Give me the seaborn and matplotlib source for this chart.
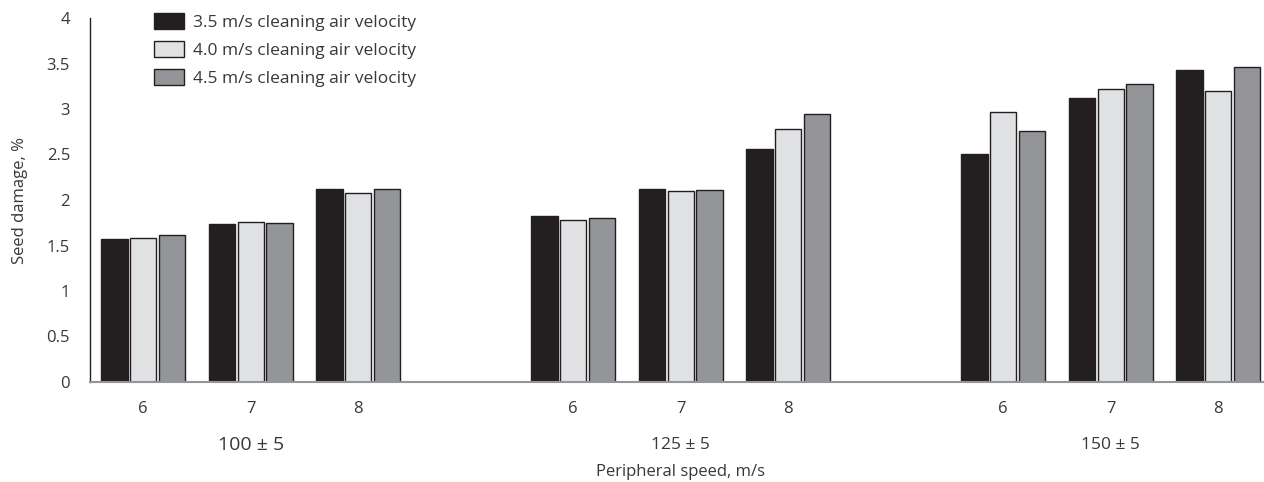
import matplotlib
matplotlib.use('Agg')
import matplotlib.pyplot as plt
import matplotlib.transforms as mtransforms
import numpy as np
import pandas as pd
import seaborn as sns

# drum speed groups and feed rate (peripheral speed) categories
drums = ['100 ± 5', '125 ± 5', '150 ± 5']
feeds = ['6', '7', '8']
air = ['3.5 m/s cleaning air velocity',
       '4.0 m/s cleaning air velocity',
       '4.5 m/s cleaning air velocity']

# seed damage, %  (order: 100-6,7,8 / 125-6,7,8 / 150-6,7,8)
dmg_35 = [1.57, 1.74, 2.12, 1.82, 2.12, 2.56, 2.51, 3.12, 3.43]
dmg_40 = [1.58, 1.76, 2.08, 1.78, 2.10, 2.78, 2.97, 3.22, 3.20]
dmg_45 = [1.61, 1.75, 2.12, 1.80, 2.11, 2.94, 2.76, 3.27, 3.46]

colors = ['#231f20', '#e0e1e3', '#939598']

# build long table; empty slots between the drum groups
slots = []
for i, d in enumerate(drums):
    for f in feeds:
        slots.append(d + '|' + f)
    if i < len(drums) - 1:
        slots.append('gap%d' % i)

rows = []
for a, vals in zip(air, [dmg_35, dmg_40, dmg_45]):
    k = 0
    for d in drums:
        for f in feeds:
            rows.append({'slot': d + '|' + f, 'air': a, 'damage': vals[k]})
            k += 1
df = pd.DataFrame(rows)

sns.set_style('white')
plt.rcParams['font.family'] = ['Open Sans', 'DejaVu Sans']

fig = plt.figure(figsize=(12.64, 4.82), dpi=100)
ax = fig.add_axes([89.5 / 1264, 100 / 482, 1182.5 / 1264, 364 / 482])

sns.barplot(data=df, x='slot', y='damage', hue='air', order=slots, hue_order=air,
            palette=colors, saturation=1, width=0.804, gap=0.085,
            edgecolor='#231f20', linewidth=1, errorbar=None, ax=ax)

ax.set_axisbelow(True)
ax.set_xlim(-0.5, len(slots) - 0.5)
ax.set_ylim(0, 4)

txt = '#3a3738'

# y axis: long inward ticks
yt = np.arange(0, 4.01, 0.5)
ax.set_yticks(yt)
ax.set_yticklabels(['%g' % v for v in yt])
ax.tick_params(axis='y', direction='in', length=20, width=1, color='#231f20',
               pad=14, labelsize=12, labelcolor=txt)

# x axis: labels at slot centres, small ticks at slot boundaries
ax.set_xticks(range(len(slots)))
ax.set_xticklabels([s.split('|')[1] if '|' in s else '' for s in slots])
ax.tick_params(axis='x', which='major', length=0, pad=14, labelsize=12,
               labelcolor=txt)
ax.set_xticks(np.arange(0.5, len(slots) - 1, 1), minor=True)
ax.tick_params(axis='x', which='minor', direction='in', length=6.5, width=1,
               color='#231f20')

for s in ['top', 'right']:
    ax.spines[s].set_visible(False)
ax.spines['left'].set_color('#231f20')
ax.spines['left'].set_linewidth(1)
ax.spines['bottom'].set_color('#939598')
ax.spines['bottom'].set_linewidth(1.5)

# drum speed group labels
trans = mtransforms.blended_transform_factory(ax.transData, ax.transAxes)
for i, d in enumerate(drums):
    ax.text(slots.index(d + '|7'), -0.172, d, transform=trans, ha='center',
            va='center', fontsize=14 if i == 0 else 12.5, color=txt)

ax.set_xlabel('Peripheral speed, m/s', fontsize=12, color=txt)
ax.xaxis.set_label_coords(0.5, -0.225)
ax.xaxis.label.set_va('top')
ax.set_ylabel('Seed damage, %', fontsize=12, color=txt)
ax.yaxis.set_label_coords(-0.052, 0.5)

handles, labels = ax.get_legend_handles_labels()
ax.legend(handles, labels, loc='upper left', frameon=False,
          bbox_to_anchor=(154 / 1264, 1 - 13 / 482), bbox_transform=fig.transFigure,
          fontsize=12.5, labelcolor=txt, handlelength=1.75, handleheight=1.0,
          handletextpad=0.5, labelspacing=0.6, borderpad=0, borderaxespad=0)

fig.savefig('out.png', dpi=100)
